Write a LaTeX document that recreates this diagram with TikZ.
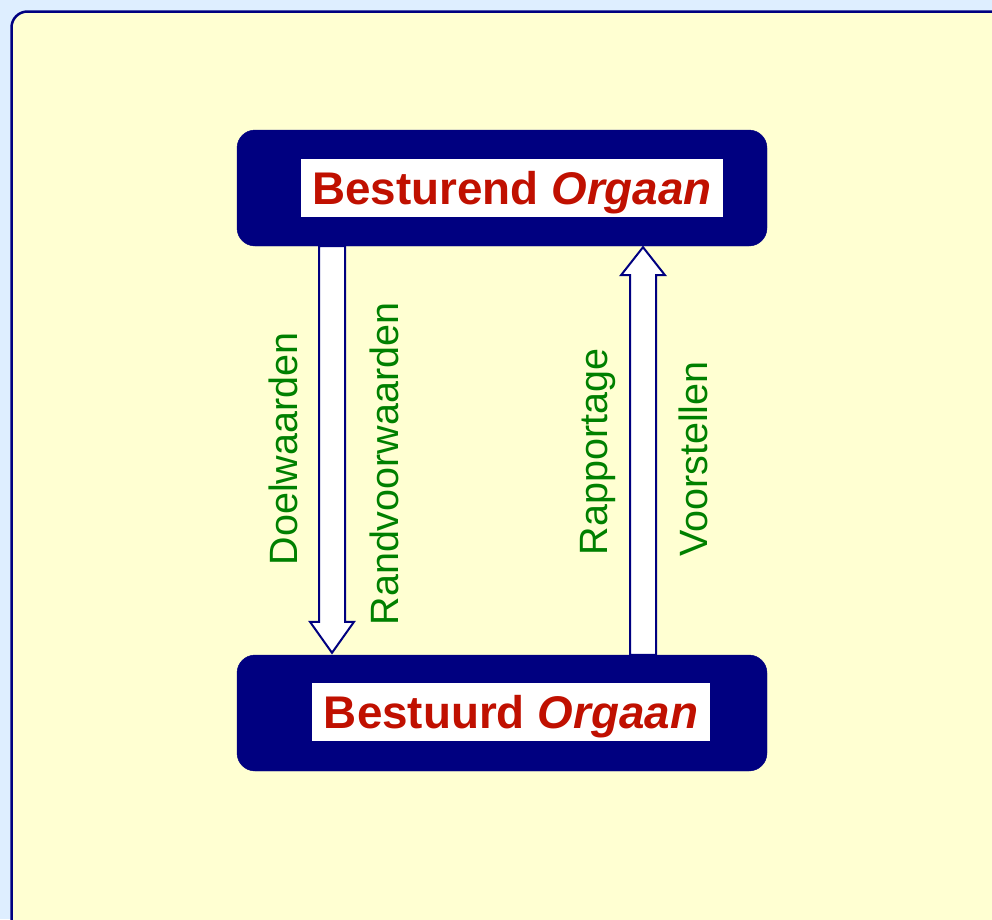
\documentclass[tikz,border=0pt]{standalone}
\usepackage{fontspec}
\setmainfont{Liberation Sans}
\usetikzlibrary{calc}
\definecolor{navy}{RGB}{0,0,128}
\definecolor{bgblue}{RGB}{222,238,255}
\definecolor{paper}{RGB}{255,255,210}
\definecolor{titlered}{RGB}{192,16,0}
\definecolor{labelgreen}{RGB}{0,128,0}
\tikzset{
  bigbox/.style={fill=navy, draw=navy, rounded corners=18pt, minimum width=530pt, minimum height=116pt, inner sep=0pt},
  whitelabel/.style={fill=white, inner sep=0pt, minimum height=58pt, text height=33pt, text depth=0pt, text=titlered, font=\fontsize{45.8}{55}\selectfont\bfseries},
  flowlabel/.style={rotate=90, anchor=base, inner sep=0pt, text=labelgreen, font=\fontsize{39.5}{47}\selectfont},
  fat/.style={draw=navy, line width=2pt, fill=white, line join=miter}
}
\begin{document}
\begin{tikzpicture}[x=1pt,y=-1pt]
\useasboundingbox (0,0) rectangle (992,919);
\clip (0,0) rectangle (992,919);
\fill[bgblue] (0,0) rectangle (992,919);
\draw[navy, line width=2.5pt, fill=paper, rounded corners=16pt] (11.5,11.5) rectangle (1020,960);

\node[bigbox] (top) at (502,188) {};
\node[bigbox] (bot) at (502,713) {};
\node[whitelabel, minimum width=422pt] (toplabel) at (512,188) {Besturend \textit{Orgaan}};
\node[whitelabel, minimum width=398pt] (botlabel) at (511,712) {Bestuurd \textit{Orgaan}};

\draw[fat] let \p1=([xshift=-170pt]top.south), \p2=([xshift=-170pt,yshift=2pt]bot.north) in
  (\x1-13,\y1) -- (\x1+13,\y1) -- (\x1+13,\y2+31) -- (\x1+22,\y2+31) -- (\x1,\y2)
  -- (\x1-22,\y2+31) -- (\x1-13,\y2+31) -- cycle;
\draw[fat] let \p1=([xshift=141pt]bot.north), \p2=([xshift=141pt,yshift=-1pt]top.south) in
  (\x1-13,\y1) -- (\x1+13,\y1) -- (\x1+13,\y2-28) -- (\x1+22,\y2-28) -- (\x1,\y2)
  -- (\x1-22,\y2-28) -- (\x1-13,\y2-28) -- cycle;

\node[flowlabel] (doel) at (297,449) {Doelwaarden};
\node[flowlabel] (rand) at (398,464) {Randvoorwaarden};
\node[flowlabel] (rapp) at (607,452) {Rapportage};
\node[flowlabel] (voor) at (707,459) {Voorstellen};
\end{tikzpicture}
\end{document}
